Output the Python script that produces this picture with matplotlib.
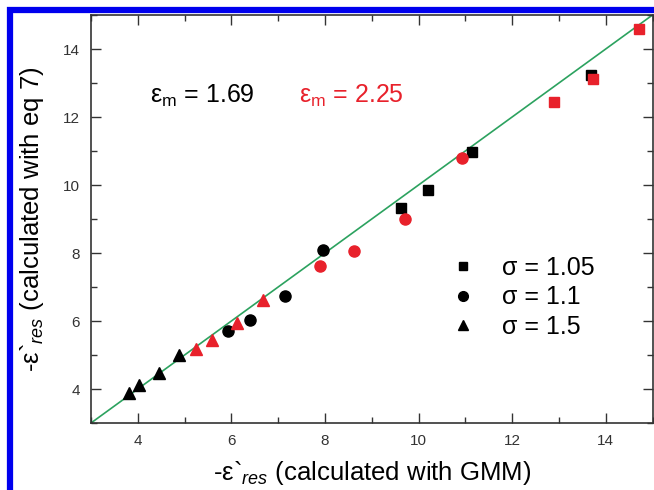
import matplotlib
matplotlib.use("Agg")
import matplotlib.pyplot as plt
from matplotlib.patches import Rectangle
from matplotlib.ticker import MultipleLocator

plt.rcParams['font.family'] = ['Liberation Sans', 'DejaVu Sans']
plt.rcParams['mathtext.fontset'] = 'custom'
plt.rcParams['mathtext.rm'] = 'Liberation Sans'
plt.rcParams['mathtext.it'] = 'Liberation Sans:italic'

# sigma = 1.05 (squares)
sq_black_x = [9.62, 10.21, 11.14, 13.68]
sq_black_y = [9.33, 9.86, 10.98, 13.25]
sq_red_x = [12.9, 13.72, 14.72]
sq_red_y = [12.43, 13.13, 14.6]
# sigma = 1.1 (circles)
ci_black_x = [5.92, 6.4, 7.15, 7.95]
ci_black_y = [5.72, 6.04, 6.75, 8.08]
ci_red_x = [7.9, 8.61, 9.7, 10.92]
ci_red_y = [7.62, 8.07, 9.0, 10.8]
# sigma = 1.5 (triangles)
tr_black_x = [3.81, 4.03, 4.45, 4.87]
tr_black_y = [3.88, 4.11, 4.46, 4.99]
tr_red_x = [5.24, 5.58, 6.11, 6.68]
tr_red_y = [5.18, 5.45, 5.94, 6.63]

line_x = [3, 15]
line_y = [3, 15]

legend_labels = ['σ = 1.05', 'σ = 1.1', 'σ = 1.5']

red = '#e8212b'
fig = plt.figure(figsize=(6.54, 4.90), dpi=100)
ax = fig.add_axes([91/654, 1-423/490, (652.5-91)/654, (423-15)/490])

ax.plot(line_x, line_y, color='#2ca25f', lw=1.2, zorder=1)

ms = 7
ax.plot(sq_black_x, sq_black_y, 's', color='black', ms=ms, ls='none', zorder=3)
ax.plot(sq_red_x, sq_red_y, 's', color=red, ms=ms, ls='none', zorder=3)
ax.plot(ci_black_x, ci_black_y, 'o', color='black', ms=ms+1, ls='none', zorder=3)
ax.plot(ci_red_x, ci_red_y, 'o', color=red, ms=ms+1, ls='none', zorder=3)
ax.plot(tr_black_x, tr_black_y, '^', color='black', ms=ms+1, ls='none', zorder=3)
ax.plot(tr_red_x, tr_red_y, '^', color=red, ms=ms+1, ls='none', zorder=3)

# legend (manual, black markers)
h1, = ax.plot([], [], 's', color='black', ms=6, ls='none')
h2, = ax.plot([], [], 'o', color='black', ms=7, ls='none')
h3, = ax.plot([], [], '^', color='black', ms=7, ls='none')
ax.legend([h1, h2, h3], legend_labels, loc='center left', bbox_to_anchor=(0.6, 0.308),
          frameon=False, fontsize=18, handletextpad=1.05, labelspacing=0.22, handlelength=1.0)

ax.text(0.105, 0.785, r'ε$_\mathrm{m}$ = 1.69', transform=ax.transAxes, fontsize=18, color='black')
ax.text(0.37, 0.785, r'ε$_\mathrm{m}$ = 2.25', transform=ax.transAxes, fontsize=18, color=red)

ax.set_xlim(3, 15)
ax.set_ylim(3, 15)
ax.xaxis.set_minor_locator(MultipleLocator(1))
ax.yaxis.set_minor_locator(MultipleLocator(1))
ax.set_xticks([4, 6, 8, 10, 12, 14])
ax.set_yticks([4, 6, 8, 10, 12, 14])
ax.tick_params(which='both', direction='in', top=True, right=True, width=1.0, colors='#333333', labelcolor='#333333', labelsize=11)
ax.tick_params(which='major', length=7, pad=8)
ax.tick_params(which='minor', length=4)
for s in ax.spines.values():
    s.set_linewidth(1.2)
    s.set_color('#333333')

ax.set_xlabel(r"-ε`$_{\mathit{res}}$ (calculated with GMM)", fontsize=18.5, labelpad=8)
ax.set_ylabel(r"-ε`$_{\mathit{res}}$ (calculated with eq 7)", fontsize=18.5, labelpad=12)

# blue frame
fig.patches.append(Rectangle((10/654, -0.1), 1.2, (490-10)/490 + 0.1,
                             transform=fig.transFigure, fill=False, edgecolor='#0000ee', lw=4.5, zorder=0))

fig.savefig('out.png', dpi=100)
